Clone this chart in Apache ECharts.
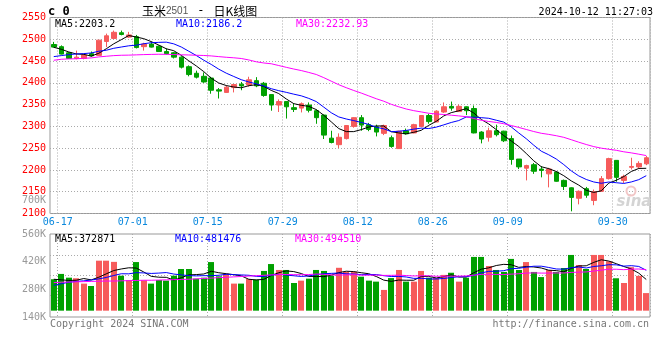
<!DOCTYPE html>
<html><head><meta charset="utf-8">
<script src="https://cdn.jsdelivr.net/npm/echarts@6/dist/echarts.min.js"></script>
<style>html,body{margin:0;padding:0;background:#fff}#c{width:660px;height:360px}</style>
</head><body><div id="c"></div>
<script>
const dates = ['06-14','06-17','06-18','06-19','06-20','06-21','06-24','06-25','06-26','06-27',
'06-28','07-01','07-02','07-03','07-04','07-05','07-08','07-09','07-10','07-11',
'07-12','07-15','07-16','07-17','07-18','07-19','07-22','07-23','07-24','07-25',
'07-26','07-29','07-30','07-31','08-01','08-02','08-05','08-06','08-07','08-08',
'08-09','08-12','08-13','08-14','08-15','08-16','08-19','08-20','08-21','08-22',
'08-23','08-26','08-27','08-28','08-29','08-30','09-02','09-03','09-04','09-05',
'09-06','09-09','09-10','09-11','09-12','09-13','09-14','09-18','09-19','09-20',
'09-23','09-24','09-25','09-26','09-27','09-30','10-08','10-09','10-10','10-11'];
const labeledDates = ['06-17','07-01','07-15','07-29','08-12','08-26','09-09','09-30'];

const opens = [2488,2483,2469,2456,2456,2467,2463,2495,2502,2515,2505,2506,2483,2489,2484,2472,2469,2459,2437,2422,
2415,2411,2384,2378,2389,2397,2395,2405,2399,2373,2349,2357,2343,2342,2349,2336,2326,2273,2258,2272,
2300,2320,2304,2299,2284,2274,2249,2290,2285,2300,2325,2310,2333,2346,2334,2345,2341,2287,2275,2290,
2289,2272,2225,2204,2212,2202,2191,2195,2176,2159,2135,2157,2130,2151,2180,2222,2176,2206,2207,2214];
const closes = [2482,2466,2456,2459,2464,2462,2498,2508,2516,2511,2510,2481,2489,2482,2472,2467,2459,2436,2419,2413,
2402,2383,2381,2390,2396,2393,2407,2393,2371,2349,2357,2345,2339,2352,2337,2320,2280,2263,2275,2302,
2320,2303,2293,2287,2302,2254,2289,2283,2304,2325,2311,2335,2345,2342,2346,2336,2285,2271,2290,2281,
2267,2224,2207,2210,2197,2199,2202,2174,2162,2137,2151,2142,2150,2180,2226,2183,2185,2208,2215,2228];
const lows = [2481,2465,2455,2454,2454,2460,2462,2482,2500,2509,2503,2479,2474,2481,2471,2465,2456,2433,2415,2410,
2400,2375,2364,2377,2378,2383,2391,2390,2368,2336,2333,2318,2333,2332,2332,2306,2271,2261,2250,2270,
2297,2290,2289,2277,2280,2251,2249,2281,2284,2298,2306,2310,2331,2336,2333,2326,2284,2261,2265,2277,
2264,2212,2202,2176,2191,2183,2160,2173,2154,2105,2121,2136,2119,2150,2178,2173,2170,2201,2203,2211];
const highs = [2494,2486,2471,2474,2466,2472,2498,2513,2520,2520,2517,2510,2492,2495,2486,2479,2471,2461,2440,2428,
2424,2414,2388,2394,2397,2402,2414,2413,2402,2373,2362,2357,2353,2355,2355,2339,2327,2290,2284,2302,
2321,2326,2308,2304,2304,2279,2290,2295,2306,2326,2329,2337,2355,2357,2350,2346,2348,2289,2297,2304,
2290,2279,2225,2212,2216,2209,2205,2197,2178,2160,2153,2161,2155,2186,2228,2222,2189,2228,2220,2232];

const ma5 = [2481.6,2477.0,2470.9,2466.3,2465.4,2461.4,2467.8,2478.2,2489.6,2499.0,
2508.6,2505.2,2501.4,2494.6,2486.8,2478.2,2473.8,2463.2,2450.6,2438.8,
2425.8,2410.6,2399.6,2393.8,2390.4,2388.6,2393.4,2395.8,2392.0,2382.6,
2375.4,2363.0,2352.2,2348.4,2346.0,2338.6,2325.6,2310.4,2295.0,2288.0,
2288.0,2292.6,2298.6,2301.0,2301.0,2287.8,2285.0,2283.0,2286.4,2291.0,
2302.4,2311.6,2324.0,2331.6,2335.8,2340.8,2330.8,2316.0,2305.6,2292.6,
2278.8,2266.6,2253.8,2237.8,2221.0,2207.4,2203.0,2196.4,2186.8,2174.8,
2165.2,2153.2,2148.4,2152.0,2169.8,2176.2,2184.8,2196.4,2203.4,2203.8];
const ma10 = [2460.2,2462.5,2464.8,2466.3,2467.1,2468.6,2472.5,2474.8,2479.3,2482.2,
2485.0,2486.5,2489.8,2492.1,2492.9,2493.4,2489.5,2482.3,2472.6,2462.8,
2452.0,2442.2,2431.4,2422.2,2414.6,2407.2,2402.0,2397.7,2392.9,2386.5,
2382.0,2378.2,2374.0,2370.2,2364.3,2357.0,2344.3,2331.3,2321.7,2317.0,
2313.3,2309.1,2304.5,2298.0,2294.5,2287.9,2288.8,2290.8,2293.7,2296.0,
2295.1,2298.3,2303.5,2309.0,2313.4,2321.6,2321.2,2320.0,2318.6,2314.2,
2309.8,2298.7,2284.9,2271.7,2256.8,2243.1,2234.8,2225.1,2212.3,2197.9,
2186.3,2178.1,2172.4,2169.4,2172.3,2170.7,2169.0,2172.4,2177.7,2186.8];
const ma30 = [2451.8,2454.1,2454.9,2455.2,2456.4,2457.2,2459.5,2461.0,2462.5,2463.3,
2463.6,2464.2,2464.8,2465.3,2465.6,2465.4,2465.0,2464.4,2464.0,2463.3,
2462.8,2461.8,2460.2,2458.7,2457.5,2455.9,2452.6,2448.3,2445.6,2443.8,
2439.7,2435.6,2431.7,2428.2,2423.9,2419.2,2411.9,2403.8,2395.7,2388.8,
2382.4,2376.5,2370.0,2363.5,2357.8,2350.7,2345.0,2339.9,2336.1,2333.2,
2330.1,2328.5,2327.3,2325.7,2324.1,2322.2,2318.1,2314.0,2311.3,2309.1,
2306.1,2302.0,2297.6,2292.9,2288.2,2284.2,2281.6,2278.6,2274.9,2269.4,
2263.7,2258.4,2253.6,2250.0,2247.5,2245.1,2241.7,2239.2,2236.2,2233.0];

// volume in thousands
const volume = [331,358,339,336,309,297,425,425,419,349,327,418,326,309,327,324,349,383,383,334,
339,418,346,359,309,309,332,329,373,408,378,378,312,324,334,378,373,349,389,369,
369,344,324,319,277,337,378,319,319,373,339,337,353,364,319,339,444,444,398,378,
368,434,378,418,368,342,378,368,388,454,403,383,454,454,422,336,312,392,348,261];
const vma5 = [331,328,325,326,334.6,327.8,341.2,358.4,375,383,389,387.6,367.8,345.8,341.4,340.8,327,338.4,353.2,354.6,
357.6,371.4,364,359.2,354.2,348.2,331,327.6,330.4,350.2,364,373.2,369.8,360,345.2,345.2,344.2,351.6,364.6,371.6,
369.8,364,359,345,326.6,320.2,327,326,326,345.2,345.6,337.4,344.2,353.2,342.4,342.4,363.8,382,388.8,400.6,
406.4,404.4,391.2,395.2,393.2,388,376.8,374.8,368.8,386,398.2,399.2,416.4,429.6,423.2,409.8,395.6,383.2,362,329.8];
const vma10 = [300,308,316,320,323,327,333,340,350,358.8,358.4,364.4,363.1,360.4,362.2,364.9,357.3,353.1,349.5,348,
349.2,349.2,351.2,356.2,354.4,352.9,351.2,345.8,344.8,352.2,356.1,352.1,348.7,345.2,347.7,354.6,358.7,360.7,362.3,358.4,
357.5,354.1,355.3,354.8,349.1,345,345.5,342.5,335.5,335.9,332.9,332.2,335.1,339.6,343.8,344,350.6,363.1,371,371.5,
374.4,384.1,386.6,392,396.9,397.2,390.6,383,382,389.6,393.1,388,395.6,399.2,404.6,404,397.4,399.8,395.8,376.5];
const vma30 = [314,316,317,318,319,320,321,322,322,323,324,325,326,326,327,328,329,330,331,333,
335,337,339,341,343,345,347,349,351,353,354.6,355.2,354.3,353.9,354.8,357.5,355.7,353.2,352.2,352.9,
354.3,351.8,351.7,352.1,350.4,350.8,351.8,349.7,347.5,348.8,348.8,346.1,346.4,346.5,346.9,347.9,351.6,355.4,356.3,355.3,
354.9,356.8,359,362.1,363.3,362.1,362.2,362.9,362.8,365.7,366.8,368.1,372.4,376.9,381.8,381.7,379.5,382,382.9,379.2];

const priceMin = 2100, priceMax = 2550, priceStep = 50;
const volMin = 140, volMax = 560, volStep = 140, volBase = 172;

const RED = '#f65b5b', GREEN = '#00a000';
const MONO = '"DejaVu Sans Mono", monospace';
const GRIDC = '#aaaaaa';
const dotted = {color: GRIDC, type: [1, 2], width: 1};
const isLabeled = (idx) => labeledDates.indexOf(dates[idx]) >= 0;

const candleData = dates.map((d, i) => [opens[i], closes[i], lows[i], highs[i]]);
const volData = volume.map((v, i) => [i, v, closes[i] >= opens[i] ? 1 : 0]);

const chart = echarts.init(document.getElementById('c'), null, {renderer: 'canvas'});

function txt(x, y, text, fill, font, align) {
  return {type: 'text', x: x, y: y, silent: true, z: 50,
    style: {text: text, fill: fill, font: font, align: align || 'left', verticalAlign: 'middle'}};
}

const option = {
  animation: false,
  backgroundColor: '#fff',
  grid: [
    {left: 50, top: 17.5, width: 600, height: 196, show: true, borderColor: '#999', borderWidth: 1, backgroundColor: 'transparent'},
    {left: 50, top: 234, width: 600, height: 83, show: true, borderColor: '#999', borderWidth: 1, backgroundColor: 'transparent'},
    {left: 50, top: 255, width: 600, height: 40, show: false}
  ],
  xAxis: [
    {type: 'category', gridIndex: 0, data: dates, boundaryGap: true,
     axisLine: {show: false}, axisTick: {show: false},
     splitLine: {show: true, interval: (idx) => isLabeled(idx), lineStyle: dotted},
     axisLabel: {show: true, interval: (idx) => isLabeled(idx), color: '#0a88dd', fontFamily: MONO, fontSize: 10, margin: 4,
       formatter: (v) => '{a|' + v + '}', rich: {a: {padding: [0, 7, 0, 0], color: '#0a88dd', fontFamily: MONO, fontSize: 10}}}},
    {type: 'category', gridIndex: 1, data: dates, boundaryGap: true,
     axisLine: {show: false}, axisTick: {show: false}, axisLabel: {show: false},
     splitLine: {show: true, interval: (idx) => isLabeled(idx), lineStyle: dotted}},
    {type: 'value', gridIndex: 2, min: 0, max: 1, show: false}
  ],
  yAxis: [
    {type: 'value', gridIndex: 0, min: priceMin, max: priceMax, interval: priceStep, scale: true,
     axisLine: {show: false}, axisTick: {show: false},
     splitLine: {show: true, lineStyle: dotted},
     axisLabel: {color: '#ff0000', fontFamily: MONO, fontSize: 10, margin: 4, padding: [0, 0, 3, 0], formatter: (v) => String(v)}},
    {type: 'value', gridIndex: 1, min: volMin, max: volMax, interval: volStep, scale: true,
     axisLine: {show: false}, axisTick: {show: false}, splitLine: {show: false},
     axisLabel: {color: '#999', fontFamily: MONO, fontSize: 10, margin: 4, formatter: (v) => v + 'K'}},
    {type: 'value', gridIndex: 2, min: 0, max: 40, interval: 20,
     axisLine: {show: false}, axisTick: {show: false}, axisLabel: {show: false},
     splitLine: {show: true, lineStyle: dotted}}
  ],
  series: [
    {type: 'candlestick', xAxisIndex: 0, yAxisIndex: 0, data: candleData, barWidth: 5,
     itemStyle: {color: RED, color0: GREEN, borderColor: RED, borderColor0: GREEN, borderWidth: 1}},
    {type: 'line', xAxisIndex: 0, yAxisIndex: 0, data: ma5, symbol: 'none', lineStyle: {color: '#000', width: 1}, z: 3},
    {type: 'line', xAxisIndex: 0, yAxisIndex: 0, data: ma10, symbol: 'none', lineStyle: {color: '#0000ff', width: 1}, z: 3},
    {type: 'line', xAxisIndex: 0, yAxisIndex: 0, data: ma30, symbol: 'none', lineStyle: {color: '#ff00ff', width: 1}, z: 3},
    {type: 'custom', xAxisIndex: 1, yAxisIndex: 1, data: volData, encode: {x: 0, y: 1},
     renderItem: function (params, api) {
       const i = api.value(0), v = api.value(1);
       const t = api.coord([i, v]);
       const b = api.coord([i, volBase]);
       const w = 6;
       return {type: 'rect', shape: {x: Math.round(t[0] - w / 2), y: t[1], width: w, height: b[1] - t[1]},
         style: {fill: api.value(2) ? RED : GREEN}};
     }},
    {type: 'line', xAxisIndex: 1, yAxisIndex: 1, data: vma5, symbol: 'none', lineStyle: {color: '#000', width: 1}, z: 3},
    {type: 'line', xAxisIndex: 1, yAxisIndex: 1, data: vma10, symbol: 'none', lineStyle: {color: '#0000ff', width: 1}, z: 3},
    {type: 'line', xAxisIndex: 1, yAxisIndex: 1, data: vma30, symbol: 'none', lineStyle: {color: '#ff00ff', width: 1}, z: 3}
  ],
  graphic: [
    txt(48, 12, 'c 0', '#000', 'bold 12px ' + MONO),
    {type: 'text', x: 142, y: 11, silent: true, z: 50, style: {
      text: '{a|玉米}{b|2501}{c|-}{a|日K线图}', verticalAlign: 'middle',
      rich: {a: {fill: '#000', font: '12px "Noto Sans CJK SC"'},
             b: {fill: '#555', font: '10px "Liberation Sans"'},
             c: {fill: '#000', font: '12px ' + MONO, padding: [0, 9, 0, 9]}}}},
    txt(653, 12, '2024-10-12 11:27:03', '#000', '10px ' + MONO, 'right'),
    txt(55, 24, 'MA5:2203.2', '#000', '10px ' + MONO),
    txt(176, 24, 'MA10:2186.2', '#0000ff', '10px ' + MONO),
    txt(296, 24, 'MA30:2232.93', '#ff00ff', '10px ' + MONO),
    txt(55, 239, 'MA5:372871', '#000', '10px ' + MONO),
    txt(175, 239, 'MA10:481476', '#0000ff', '10px ' + MONO),
    txt(295, 239, 'MA30:494510', '#ff00ff', '10px ' + MONO),
    txt(46, 200.5, '700K', '#999', '10px ' + MONO, 'right'),
    txt(50, 324, 'Copyright 2024 SINA.COM', '#777', '10px ' + MONO),
    txt(649, 324, 'http://finance.sina.com.cn', '#777', '10px ' + MONO, 'right'),
    {type: 'text', x: 634, y: 202, silent: true, z: 1, style: {text: 'sina', fill: '#d4d4d4', font: 'italic bold 15px "DejaVu Sans"', align: 'center', verticalAlign: 'middle'}},
    {type: 'circle', shape: {cx: 631, cy: 191, r: 4.5}, silent: true, z: 1, style: {fill: 'none', stroke: '#f2c6c6', lineWidth: 2}}
  ]
};
chart.setOption(option);
</script>
</body></html>
